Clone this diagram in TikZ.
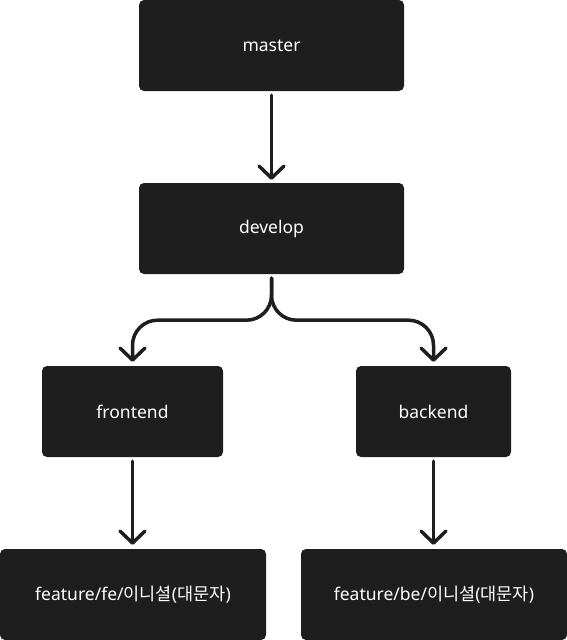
\documentclass[tikz,border=0pt]{standalone}
\usepackage{fontspec}
\setmainfont{Noto Sans}
\newfontfamily\cjk{Noto Sans CJK KR}
\usetikzlibrary{arrows.meta}
\definecolor{boxfill}{HTML}{1E1E1E}
\tikzset{
  box/.style={fill=boxfill, rounded corners=5pt, inner sep=0pt, text=white, font=\fontsize{17.5}{21}\selectfont},
  conn/.style={draw=boxfill, line width=3.5pt, line cap=round, line join=round,
    -{Straight Barb[length=12pt,width=25pt,line width=3.5pt,round]}}
}
\begin{document}
\begin{tikzpicture}[x=1pt,y=-1pt]
\useasboundingbox (0,0) rectangle (567,640);
\node[box, minimum width=265pt, minimum height=91pt] (master) at (271.5,45.5) {master};
\node[box, minimum width=265pt, minimum height=91pt] (develop) at (271.5,228.5) {develop};
\node[box, minimum width=181pt, minimum height=91pt] (frontend) at (132.5,411.5) {frontend};
\node[box, minimum width=155pt, minimum height=91pt] (backend) at (433.5,411.5) {backend};
\node[box, minimum width=266pt, minimum height=91pt] (fefeat) at (133,594.5) {feature/fe/{\cjk 이니셜}({\cjk 대문자})};
\node[box, minimum width=266pt, minimum height=91pt] (befeat) at (434,594.5) {feature/be/{\cjk 이니셜}({\cjk 대문자})};
\draw[conn, shorten <=4pt, shorten >=3pt] (master.south) -- (develop.north);
\draw[conn, shorten <=4pt, shorten >=4pt, rounded corners=25pt] (develop.south) -- ++(0,46) -| (frontend.north);
\draw[conn, shorten <=4pt, shorten >=4pt, rounded corners=25pt] (develop.south) -- ++(0,46) -| (backend.north);
\draw[conn, shorten <=4pt, shorten >=4pt] (frontend.south) -- (frontend.south |- fefeat.north);
\draw[conn, shorten <=4pt, shorten >=4pt] (backend.south) -- (backend.south |- befeat.north);
\end{tikzpicture}
\end{document}
